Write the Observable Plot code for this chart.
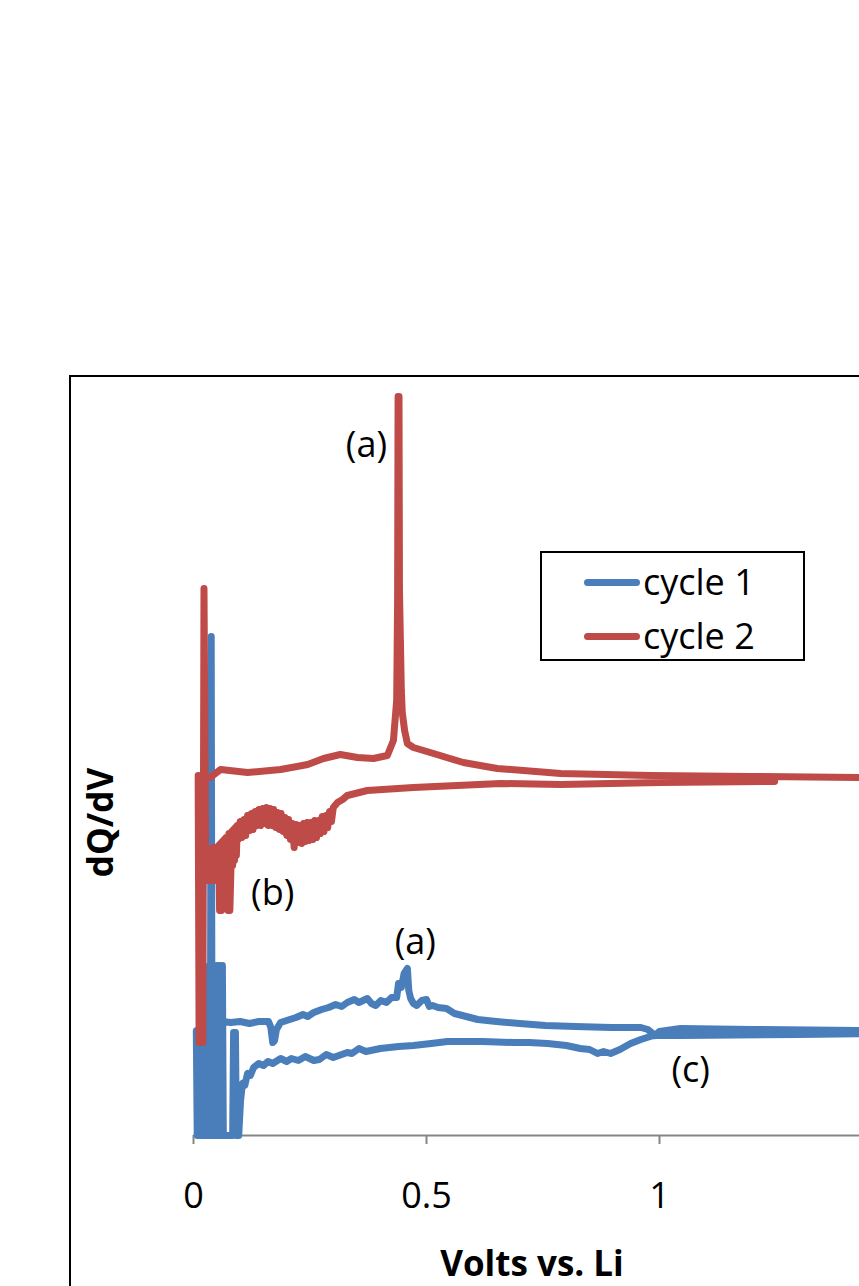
<!DOCTYPE html>
<html>
<head>
<meta charset="utf-8">
<script src="https://cdn.jsdelivr.net/npm/d3@7"></script>
<script src="https://cdn.jsdelivr.net/npm/@observablehq/plot@0.6"></script>
<style>
  html, body { margin: 0; padding: 0; background: #fff; }
  body { width: 859px; height: 1286px; overflow: hidden; position: relative; font-family: "Open Sans", sans-serif; }
  #chart { position: absolute; left: 69px; top: 375px; width: 900px; height: 930px; border: 2px solid #000; background: #fff; }
  #legend { position: absolute; left: 540px; top: 551px; width: 261px; height: 106px; border: 2px solid #000; background: #fff; }
  .row { position: absolute; left: 0; height: 54px; display: flex; align-items: center; }
  .sw { width: 56px; height: 7px; border-radius: 3.5px; margin-left: 42px; margin-right: 3px; }
  .lab { font-size: 36px; color: #000; line-height: 1; }
</style>
</head>
<body>
<div id="chart"></div>
<div id="legend"></div>
<script>
// ---- data (Volts vs. Li, dQ/dV in arbitrary units) ----
const seriesNames = ["cycle 1", "cycle 2"];
const seriesColors = ["#4A7EBB", "#BE4B48"];

// cycle 1: discharge (high V -> 0), spikes near 0 V, then charge (0 -> high V)
const cycle1V = [
  1.50, 1.30, 1.045, 0.987, 0.960, 0.938, 0.915, 0.895, 0.880, 0.867, 0.850, 0.830, 0.800, 0.760, 0.720, 0.687,
  0.620, 0.545, 0.510, 0.472, 0.440, 0.401, 0.370, 0.355, 0.340, 0.330, 0.300, 0.285, 0.270, 0.258, 0.240, 0.225,
  0.210, 0.200, 0.187, 0.170, 0.160, 0.150, 0.140, 0.129, 0.122, 0.116, 0.110, 0.105, 0.101, 0.097,
  0.092, 0.090, 0.086, 0.084, 0.064,
  0.062, 0.060, 0.058, 0.056, 0.054, 0.052, 0.050, 0.048, 0.046, 0.044, 0.042, 0.040, 0.038, 0.036, 0.034, 0.032,
  0.030, 0.028, 0.026, 0.024, 0.022, 0.020, 0.018, 0.016, 0.014, 0.012, 0.010, 0.008, 0.006,
  0.062, 0.080, 0.100, 0.120, 0.140, 0.161, 0.166, 0.170, 0.174, 0.178, 0.187, 0.200, 0.220, 0.235, 0.245,
  0.258, 0.275, 0.290, 0.305, 0.318, 0.330, 0.345, 0.355, 0.373, 0.382, 0.391, 0.402, 0.414, 0.425, 0.436,
  0.440, 0.446, 0.452, 0.459, 0.462, 0.466, 0.472, 0.479, 0.490, 0.500, 0.506, 0.513, 0.525, 0.543, 0.560,
  0.577, 0.610, 0.650, 0.700, 0.755, 0.820, 0.897, 0.960, 0.975, 0.990, 1.000, 1.045, 1.200, 1.429, 1.500
];
const cycle1Q = [
  10.2, 10.1, 10.0, 10.0, 9.6, 9.2, 8.6, 8.2, 8.4, 8.2, 8.6, 8.7, 9.0, 9.2, 9.3, 9.3,
  9.4, 9.4, 9.2, 9.0, 8.9, 8.7, 8.4, 8.7, 8.2, 8.3, 7.8, 8.1, 7.6, 7.5, 7.9, 7.5,
  7.7, 7.4, 7.7, 7.2, 7.4, 7.0, 7.2, 6.8, 6.0, 6.2, 5.0, 5.2, 3.5, 0,
  0, 10.3, 10.3, 0, 0,
  17.0, 0, 17.0, 0, 17.0, 0, 17.0, 0, 17.0, 0, 17.0, 0, 49.9, 0, 17.0, 0,
  10.5, 0, 10.5, 0, 10.5, 0, 10.5, 0, 10.5, 0, 10.5, 0, 10.5,
  11.4, 11.3, 11.4, 11.2, 11.4, 11.4, 10.8, 9.3, 9.5, 10.6, 11.3, 11.5, 11.8, 12.1, 11.9,
  12.3, 12.6, 12.8, 13.1, 12.9, 13.3, 13.6, 13.3, 13.7, 13.2, 13.0, 13.5, 13.3, 13.8, 13.8,
  15.2, 14.8, 16.2, 16.7, 14.5, 13.7, 13.2, 13.0, 13.5, 13.6, 12.9, 13.0, 12.8, 12.7, 12.2,
  12.0, 11.6, 11.4, 11.2, 11.0, 10.9, 10.8, 10.8, 10.6, 10.0, 10.4, 10.7, 10.6, 10.5, 10.5
];

// cycle 2: discharge (1.25 V -> 0), noisy region (b), spike near 0 V, then charge with peak (a)
const cycle2V = [
  1.247, 1.002, 0.788, 0.659, 0.472, 0.373, 0.330, 0.320, 0.309,
  0.300, 0.296, 0.292, 0.288, 0.284, 0.280, 0.276, 0.272, 0.268, 0.264, 0.260, 0.256, 0.252, 0.248, 0.244,
  0.240, 0.236, 0.232, 0.228, 0.224, 0.220, 0.216, 0.212, 0.208, 0.204, 0.200, 0.196, 0.192, 0.188, 0.184,
  0.180, 0.176, 0.172, 0.168, 0.164, 0.160, 0.156, 0.152, 0.148, 0.144, 0.140, 0.136, 0.132, 0.128, 0.124,
  0.120, 0.116, 0.112, 0.108, 0.104, 0.100, 0.096,
  0.094, 0.092, 0.090, 0.088, 0.086, 0.084, 0.082, 0.080, 0.078, 0.076, 0.074, 0.072, 0.070, 0.068, 0.066,
  0.064, 0.062, 0.060, 0.058, 0.056, 0.054, 0.052, 0.050, 0.048, 0.046, 0.044, 0.042, 0.040, 0.038, 0.036,
  0.034, 0.032, 0.030, 0.028, 0.026,
  0.0225, 0.020, 0.012, 0.010,
  0.036, 0.058, 0.116, 0.187, 0.245, 0.279, 0.315, 0.352, 0.386, 0.416, 0.429, 0.436, 0.438, 0.439, 0.441,
  0.442, 0.444, 0.446, 0.448, 0.453, 0.459, 0.472, 0.515, 0.579, 0.652, 0.788, 0.981, 1.195, 1.429, 1.500
];
const cycle2Q = [
  35.4, 35.3, 35.1, 35.2, 34.8, 34.5, 34.0, 33.6, 33.3,
  32.8, 31.4, 32.4, 30.8, 32.0, 30.4, 31.9, 30.2, 31.5, 29.8, 31.5, 29.6, 31.3, 29.5, 31.3,
  29.4, 31.2, 29.2, 31.0, 29.3, 31.1, 28.8, 31.2, 29.6, 31.6, 30.0, 31.8, 30.4, 32.2, 30.6,
  32.3, 30.8, 32.6, 31.0, 32.7, 31.0, 32.8, 31.2, 32.7, 31.0, 32.6, 31.0, 32.4, 30.6, 32.2,
  30.5, 32.0, 30.0, 31.6, 29.8, 31.4, 29.6,
  31.0, 28.0, 30.8, 27.5, 30.6, 27.0, 30.4, 26.0, 22.5, 30.2, 22.5, 25.5, 29.8, 25.5, 29.6,
  25.0, 29.4, 22.5, 29.2, 22.5, 29.0, 25.5, 28.8, 25.5, 28.8, 25.5, 28.8, 25.5, 28.6, 25.5,
  28.6, 25.5, 28.4, 25.5, 28.0,
  54.7, 9.3, 9.3, 36.0,
  35.8, 36.6, 36.3, 36.6, 37.1, 37.7, 38.1, 37.8, 37.7, 38.0, 39.5, 43.5, 53.5, 73.9, 73.9,
  54.5, 49.5, 44.5, 42.3, 40.5, 39.2, 38.8, 38.2, 37.3, 36.7, 36.2, 36.0, 35.9, 35.8, 35.8
];

const xTicks = [0, 0.5, 1];
const annotationText = ["(a)", "(b)", "(a)", "(c)"];
const annotationV = [0.371, 0.170, 0.476, 1.067];
const annotationQ = [69.0, 24.2, 19.3, 6.5];
const yTitleQ = 31.3;

// ---- build tables ----
const c1 = cycle1V.map((v, i) => ({v, q: cycle1Q[i]}));
const c2 = cycle2V.map((v, i) => ({v, q: cycle2Q[i]}));
const notes = annotationText.map((t, i) => ({t, v: annotationV[i], q: annotationQ[i]}));

const lineStyle = {x: "v", y: "q", strokeWidth: 7, strokeLinecap: "round", strokeLinejoin: "round", curve: "linear"};

const chart = Plot.plot({
  width: 841,
  height: 928,
  marginLeft: 122,
  marginRight: 20,
  marginTop: 8,
  marginBottom: 170,
  style: {fontFamily: "'Open Sans', sans-serif", background: "transparent", overflow: "visible"},
  x: {domain: [0, 1.5]},
  y: {domain: [0, 75], axis: null},
  marks: [
    Plot.ruleY([0], {stroke: "#868686", strokeWidth: 2}),
    Plot.axisX({ticks: xTicks, tickSize: 9, tickPadding: 38, fontSize: 36, stroke: "#868686", strokeWidth: 2, fill: "#000", label: null, tickFormat: d => String(d)}),
    Plot.line(c1, {...lineStyle, stroke: seriesColors[0]}),
    Plot.line(c2, {...lineStyle, stroke: seriesColors[1]}),
    Plot.text(notes, {x: "v", y: "q", text: "t", fontSize: 36, fill: "#000"}),
    Plot.text(["Volts vs. Li"], {frameAnchor: "bottom", dx: -11, dy: 140, fontSize: 35, fontWeight: "bold", fill: "#000"}),
    Plot.text(["dQ/dV"], {frameAnchor: "left", y: () => yTitleQ, textAnchor: "middle", rotate: -90, dx: -92, fontSize: 35, fontWeight: "bold", fill: "#000"})
  ]
});
document.getElementById("chart").appendChild(chart);

// legend
const legend = document.getElementById("legend");
seriesNames.forEach((name, i) => {
  const row = document.createElement("div");
  row.className = "row";
  row.style.top = (2 + i * 54) + "px";
  const sw = document.createElement("div");
  sw.className = "sw";
  sw.style.background = seriesColors[i];
  const lab = document.createElement("span");
  lab.className = "lab";
  lab.textContent = name;
  row.appendChild(sw);
  row.appendChild(lab);
  legend.appendChild(row);
});
</script>
</body>
</html>
